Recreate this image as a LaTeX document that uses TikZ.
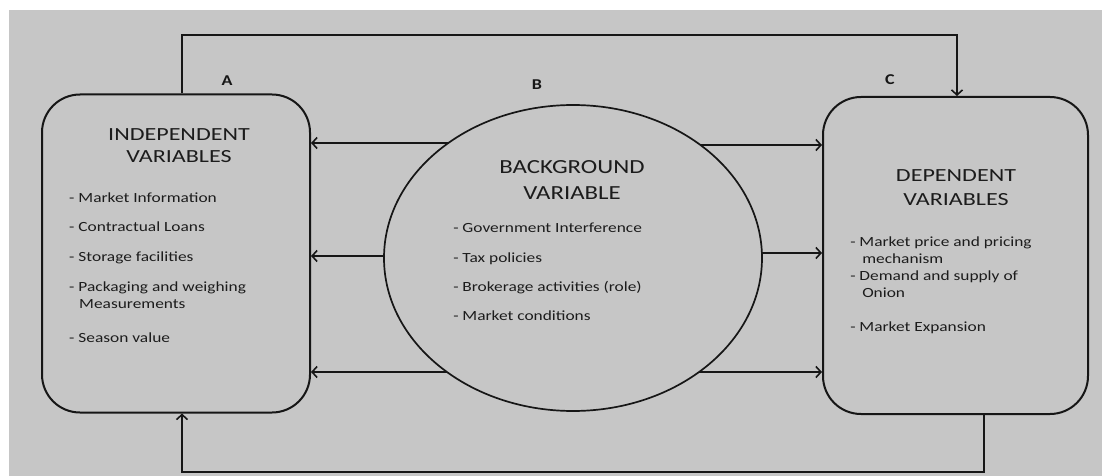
\documentclass[tikz,border=0pt]{standalone}
\usepackage{fontspec}
\setmainfont{Carlito}
\usetikzlibrary{arrows.meta,shapes.geometric}
\definecolor{bg}{HTML}{C6C6C6}
\definecolor{ink}{HTML}{161616}
\definecolor{txt}{HTML}{1C1C1C}
\begin{document}
\begin{tikzpicture}[x=1pt,y=-1pt,
  box/.style={draw=ink, line width=2pt, rounded corners=38pt,
    minimum width=268pt, minimum height=318pt, inner sep=0pt},
  oval/.style={draw=ink, line width=1.7pt, ellipse,
    minimum width=378pt, minimum height=306pt, inner sep=0pt},
  link/.style={draw=ink, line width=1.6pt,
    -{Straight Barb[length=5pt,width=11pt,line width=1.6pt]}},
  head/.style={text=txt, align=center, xscale=1.3, inner sep=0pt},
  item/.style={text=txt, font=\fontsize{14}{17}\selectfont,
    anchor=base west, xscale=1.24, inner sep=0pt},
  tag/.style={text=ink, font=\bfseries\fontsize{15}{17}\selectfont, xscale=1.2}]

% page and grey panel
\useasboundingbox (0,0) rectangle (1104,476);
\fill[white] (0,0) rectangle (1104,476);
\fill[bg] (9,10) rectangle (1102,476);

% the three blocks
\node[box]  (L) at (176,253.5) {};
\node[box, minimum width=265pt, minimum height=317pt] (R) at (955.5,255.5) {};
\node[oval] (E) at (573,258) {};

% block letters
\node[tag] (tA) at (227,81) {A};
\node[tag] (tB) at (537,85) {B};
\node[tag] (tC) at (890,80) {C};

% headings
\node[head, font=\fontsize{18.5}{22}\selectfont] (hL) at (179,146)
  {INDEPENDENT\\VARIABLES};
\node[head, xscale=0.955, font=\fontsize{20}{26}\selectfont] (hE) at (572,180)
  {BACKGROUND\\VARIABLE};
\node[head, font=\fontsize{18.5}{24}\selectfont] (hR) at (956,188)
  {DEPENDENT\\VARIABLES};

% independent variables
\node[item] (l1) at (69,203) {- Market Information};
\node[item] (l2) at (69,232) {- Contractual Loans};
\node[item] (l3) at (69,261) {- Storage facilities};
\node[item] (l4) at (69,291) {- Packaging and weighing};
\node[item] (l5) at (79,308) {Measurements};
\node[item] (l6) at (69,342) {- Season value};

% background variable
\node[item] (c1) at (453,233) {- Government Interference};
\node[item] (c2) at (453,262) {- Tax policies};
\node[item] (c3) at (453,291) {- Brokerage activities (role)};
\node[item] (c4) at (453,320) {- Market conditions};

% dependent variables
\node[item] (r1) at (850,246) {- Market price and pricing};
\node[item] (r2) at (862,263) {mechanism};
\node[item] (r3) at (850,280) {- Demand and supply of};
\node[item] (r4) at (862,297) {Onion};
\node[item] (r5) at (850,331) {- Market Expansion};

% points where the side arrows leave the oval
\coordinate (e1) at (448.3,143);
\coordinate (e2) at (385,256);
\coordinate (e3) at (447,372);
\coordinate (e4) at (700.4,145);
\coordinate (e5) at (761,253);
\coordinate (e6) at (699,372);

\draw[link] (e1) -- (L.east |- e1);
\draw[link] (e2) -- (L.east |- e2);
\draw[link] (e3) -- (L.east |- e3);
\draw[link] (e4) -- (R.west |- e4);
\draw[link] (e5) -- (R.west |- e5);
\draw[link] (e6) -- (R.west |- e6);

% feedback loops
\coordinate (t1) at (182,35);
\coordinate (t2) at (957,35);
\draw[link] (L.north -| t1) -- (t1) -- (t2) -- (R.north -| t2);

\coordinate (b1) at (984,472);
\coordinate (b2) at (182,472);
\draw[link] (R.south -| b1) -- (b1) -- (b2) -- (L.south -| b2);
\end{tikzpicture}
\end{document}
